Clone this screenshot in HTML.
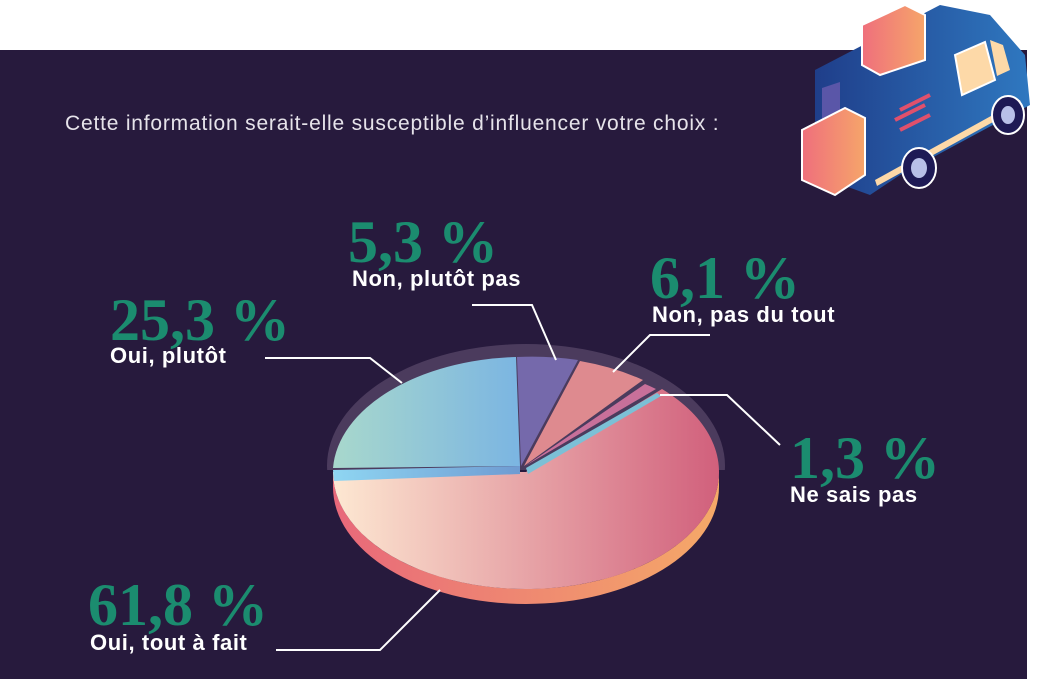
<!DOCTYPE html>
<html><head><meta charset="utf-8"><style>
body{margin:0;width:1040px;height:679px;background:#fff;overflow:hidden;position:relative;font-family:"Liberation Sans",sans-serif}
.bg{position:absolute;left:0;top:50px;width:1027px;height:629px;background:#271a3d}
.t{position:absolute;white-space:nowrap}
.title{left:65px;top:112px;font-size:21px;letter-spacing:0.8px;color:#e6e3ea}
.num{font-family:"Liberation Serif",serif;font-weight:bold;font-size:60px;color:#1b8c6f;line-height:1;letter-spacing:0px}
.lab{font-weight:bold;font-size:22px;letter-spacing:0.6px;color:#fff;line-height:1}
svg{position:absolute;left:0;top:0}
</style></head><body>
<div class="bg"></div>
<svg width="1040" height="679">
<defs>
<linearGradient id="side" x1="0" x2="1"><stop offset="0" stop-color="#e8687a"/><stop offset="1" stop-color="#f5a968"/></linearGradient>
<linearGradient id="big" x1="0" x2="1"><stop offset="0" stop-color="#fde8d2"/><stop offset="1" stop-color="#d1607c"/></linearGradient>
<linearGradient id="blue" x1="0" x2="1"><stop offset="0" stop-color="#a8d8cc"/><stop offset="1" stop-color="#7bb5e2"/></linearGradient>
<linearGradient id="bside" x1="0" x2="1"><stop offset="0" stop-color="#8fd6f2"/><stop offset="1" stop-color="#6f9bd2"/></linearGradient>
<linearGradient id="van" x1="0" x2="1"><stop offset="0" stop-color="#1f3e8a"/><stop offset="1" stop-color="#2f78c0"/></linearGradient>
<linearGradient id="box" x1="0" x2="1"><stop offset="0" stop-color="#ef6f7c"/><stop offset="1" stop-color="#f6a56a"/></linearGradient>
</defs>
<ellipse cx="526" cy="466" rx="199" ry="122" fill="#6a5878" opacity="0.55"/>
<rect x="320" y="470" width="420" height="140" fill="#271a3d"/>
<path d="M333,472 A193 117 0 0 0 719,472 L719,487 A193 117 0 0 1 333,487 Z" fill="url(#side)"/>
<path d="M526,472 L662,389 A193 117 0 1 1 333,472 Z" fill="url(#big)"/>
<path d="M333,470 L520,466 L520,474 L334,481 Z" fill="url(#bside)"/>
<path d="M520,466 L333,468 A193 117 0 0 1 516,357 Z" fill="url(#blue)"/>
<path d="M521,466 L517,357 A193 117 0 0 1 578,360 Z" fill="#7569ab"/>
<path d="M524,466 L580,361 A193 117 0 0 1 643,380 Z" fill="#de8a8f"/>
<path d="M525,466 L645,384 A193 117 0 0 1 656,389 Z" fill="#c8709a"/>
<path d="M526,468 L657,393 A193 117 0 0 1 661,396 L528,474 Z" fill="#7cc0d6"/>
<g stroke="#fff" stroke-width="2" fill="none">
<polyline points="265,358 370,358 402,383"/>
<polyline points="472,305 532,305 556,360"/>
<polyline points="613,372 650,335 710,335"/>
<polyline points="660,395 727,395 780,445"/>
<polyline points="276,650 380,650 440,590"/>
</g>
<g>
<path d="M815,70 L940,5 L990,15 L1025,55 L1030,105 L900,175 L870,195 L815,175 Z" fill="url(#van)"/>
<path d="M955,55 L985,42 L995,80 L962,95 Z" fill="#fdd9a8" stroke="#fff" stroke-width="2"/>
<path d="M990,40 L1003,45 L1010,70 L997,76 Z" fill="#fdd9a8"/>
<path d="M875,180 L1020,100 L1022,106 L877,186 Z" fill="#fdd9a8"/>
<path d="M900,110 L930,95 M895,120 L925,105 M900,130 L930,115" stroke="#e0506c" stroke-width="4"/>
<ellipse cx="919" cy="168" rx="17" ry="20" fill="#1e1a55" stroke="#fff" stroke-width="2"/>
<ellipse cx="919" cy="168" rx="8" ry="10" fill="#b8c0e8"/>
<ellipse cx="1008" cy="115" rx="16" ry="19" fill="#1e1a55" stroke="#fff" stroke-width="2"/>
<ellipse cx="1008" cy="115" rx="7" ry="9" fill="#b8c0e8"/>
<path d="M822,88 L840,82 L840,185 L822,178 Z" fill="#5a56a8"/>
<path d="M802,130 L845,108 L865,118 L865,175 L835,195 L802,180 Z" fill="url(#box)" stroke="#fff" stroke-width="2"/>
<path d="M862,25 L905,5 L925,15 L925,60 L880,75 L862,65 Z" fill="url(#box)" stroke="#fff" stroke-width="2"/>
</g>
</svg>
<div class="t title">Cette information serait-elle susceptible d’influencer votre choix :</div>
<div class="t num" style="left:110px;top:290px">25,3 %</div>
<div class="t lab" style="left:110px;top:345px">Oui, plutôt</div>
<div class="t num" style="left:348px;top:212px">5,3 %</div>
<div class="t lab" style="left:352px;top:268px">Non, plutôt pas</div>
<div class="t num" style="left:650px;top:248px">6,1 %</div>
<div class="t lab" style="left:652px;top:304px">Non, pas du tout</div>
<div class="t num" style="left:790px;top:428px">1,3 %</div>
<div class="t lab" style="left:790px;top:484px">Ne sais pas</div>
<div class="t num" style="left:88px;top:575px">61,8 %</div>
<div class="t lab" style="left:90px;top:632px">Oui, tout à fait</div>
</body></html>
